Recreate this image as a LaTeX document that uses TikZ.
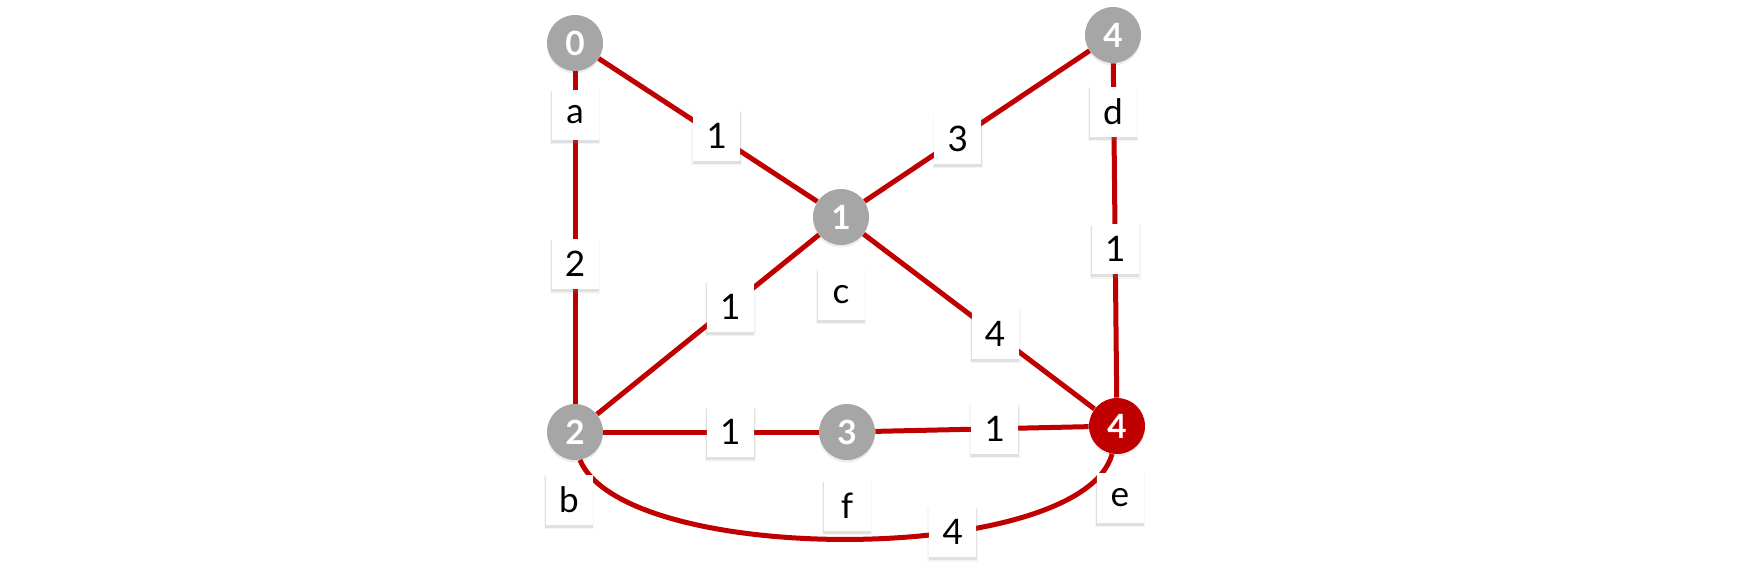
\documentclass[tikz,border=0pt]{standalone}
\usepackage{fontspec}
\setmainfont{Lato}
\usetikzlibrary{positioning, shadows}
\definecolor{edgered}{RGB}{192,0,0}
\definecolor{vgrey}{RGB}{166,166,166}

\begin{document}
\begin{tikzpicture}[x=0.02cm, y=-0.02cm,
  vtx/.style={circle, fill=vgrey, minimum size=1.12cm, inner sep=0pt, text=white,
    font=\fontsize{19}{19}\selectfont\bfseries,
    drop shadow={shadow xshift=0pt, shadow yshift=-0.05cm, opacity=0.15}},
  hot/.style={vtx, fill=edgered},
  box/.style={fill=white, text=black, minimum width=0.94cm, minimum height=1cm, inner sep=0pt,
    font=\fontsize{20}{20}\selectfont,
    drop shadow={shadow xshift=0pt, shadow yshift=-0.05cm, shadow scale=1.08, opacity=0.08},
    drop shadow={shadow xshift=0pt, shadow yshift=-0.05cm, shadow scale=1.03, opacity=0.18}},
  link/.style={edgered, line width=0.1cm}]
  \useasboundingbox (0,0) rectangle (1737,583);
  % vertices
  \node[vtx] (a) at (575,43) {0};
  \node[vtx] (d) at (1113,35) {4};
  \node[vtx] (c) at (841,217) {1};
  \node[vtx] (b) at (575,432) {2};
  \node[vtx] (f) at (847,432) {3};
  \node[hot] (e) at (1117,426) {4};
  % edges and weights
  \draw[link] (a) -- node[box, pos=0.54] (wac) {1} (c);
  \draw[link] (c) -- node[box, pos=0.415] (wcd) {3} (d);
  \draw[link] (a) -- node[box, pos=0.58] (wab) {2} (b);
  \draw[link] (d) -- node[box, pos=0.555] (wde) {1} (e);
  \draw[link] (c) -- node[box, pos=0.57] (wce) {4} (e);
  \draw[link] (b) -- node[box, pos=0.6] (wbc) {1} (c);
  \draw[link] (b) -- node[box, pos=0.59] (wbf) {1} (f);
  \draw[link] (f) -- node[box, pos=0.56] (wfe) {1} (e);
  \draw[link] (b.-80) .. controls +(45,108) and +(-30,112) .. (e.-100)
    node[box, pos=0.64] (wbe) {4};
  % vertex names
  \node[box, below=0.36cm of a] (la) {a};
  \node[box, below=0.46cm of d] (ld) {d};
  \node[box, below=0.48cm of c] (lc) {c};
  \node[box, below=0.28cm of b, xshift=-0.12cm] (lb) {b};
  \node[box, below=0.4cm of f] (lf) {f};
  \node[box, below=0.36cm of e, xshift=0.06cm] (le) {e};
\end{tikzpicture}
\end{document}
